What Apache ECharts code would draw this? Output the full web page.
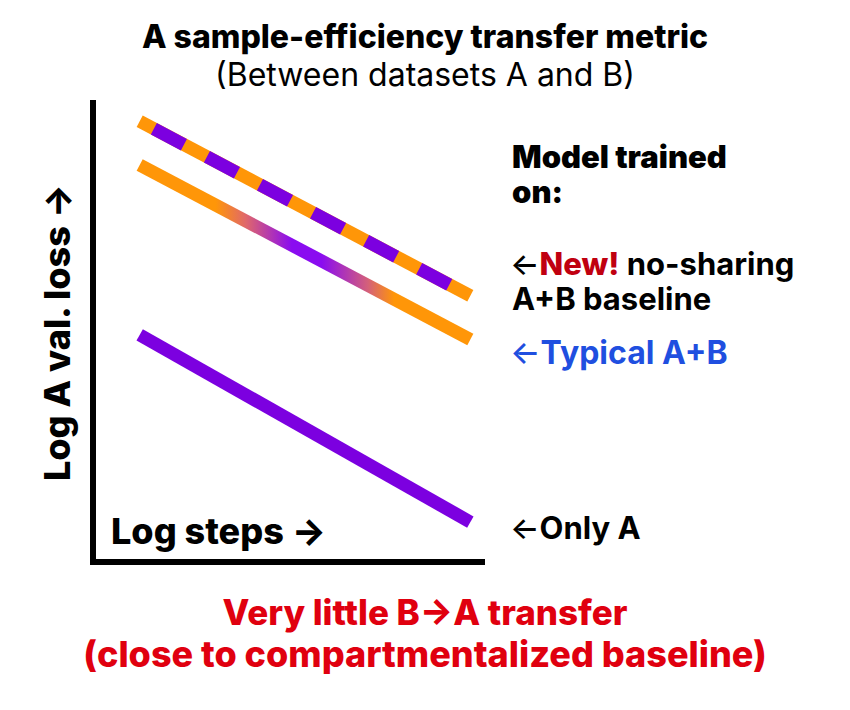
<!DOCTYPE html>
<html>
<head>
<meta charset="utf-8">
<script src="https://cdn.jsdelivr.net/npm/echarts@6/dist/echarts.min.js"></script>
<style>
  html, body { margin: 0; padding: 0; background: #fff; }
  #chart { width: 850px; height: 710px; }
</style>
</head>
<body>
<div id="chart"></div>
<script>
// ---- data (schematic) ----
const logSteps = [1.2, 9.7];
const noSharingLoss = [9.6, 5.8];
const typicalLoss = [8.65, 4.85];
const onlyALoss = [4.95, 0.87];

const ORANGE = '#ff9608';
const PURPLE = '#7c00e0';
const FONT = 'Inter, "Noto Sans", sans-serif';

function pairs(xs, ys) {
    return xs.map(function (x, i) { return [x, ys[i]]; });
}

// text block placed by its left edge and vertical middle
function label(x, y, text, font, fill, rich) {
    return {
        type: 'text',
        x: x,
        y: y,
        style: {
            text: text,
            font: font,
            fill: fill,
            textVerticalAlign: 'middle',
            rich: rich || {}
        }
    };
}

var dom = document.getElementById('chart');
var myChart = echarts.init(dom, null, { renderer: 'svg' });

var option = {
    backgroundColor: '#ffffff',
    animation: false,
    title: {
        text: 'A sample-efficiency transfer metric',
        subtext: '(Between datasets A and B)',
        left: 'center',
        top: 15,
        itemGap: 6,
        textStyle: {
            fontFamily: FONT,
            fontSize: 32,
            fontWeight: 800,
            color: '#000'
        },
        subtextStyle: {
            fontFamily: FONT,
            fontSize: 32,
            fontWeight: 400,
            color: '#000'
        }
    },
    grid: {
        left: 93,
        right: 368,
        top: 103,
        bottom: 148
    },
    xAxis: {
        type: 'value',
        min: 0,
        max: 10,
        axisLine: { lineStyle: { color: '#000', width: 6, cap: 'square' } },
        axisTick: { show: false },
        axisLabel: { show: false },
        splitLine: { show: false }
    },
    yAxis: {
        type: 'value',
        min: 0,
        max: 10,
        name: 'Log A val. loss \u2192',
        nameLocation: 'middle',
        nameRotate: 90,
        nameGap: 18,
        nameTextStyle: {
            fontFamily: FONT,
            fontSize: 36,
            fontWeight: 800,
            color: '#000'
        },
        axisLine: { show: true, lineStyle: { color: '#000', width: 6, cap: 'square' } },
        axisTick: { show: false },
        axisLabel: { show: false },
        splitLine: { show: false }
    },
    graphic: [
        label(111, 531, 'Log steps \u2192', '800 36px ' + FONT, '#000'),
        label(512, 156, 'Model trained', '900 31px ' + FONT, '#000'),
        label(512, 191, 'on:', '900 31px ' + FONT, '#000'),
        label(510, 263, '{a|\u2190}{r|New!} no-sharing', '700 31px ' + FONT, '#000', {
            a: { font: '500 31px ' + FONT, fill: '#000' },
            r: { font: '800 31px ' + FONT, fill: '#c00010' }
        }),
        label(512, 298, 'A+B baseline', '700 31px ' + FONT, '#000'),
        label(510, 352, '{a|\u2190}Typical A+B', '700 32px ' + FONT, '#1f4fe0', {
            a: { font: '500 32px ' + FONT, fill: '#1f4fe0' }
        }),
        label(510, 527, '{a|\u2190}Only A', '700 31px ' + FONT, '#000', {
            a: { font: '500 31px ' + FONT, fill: '#000' }
        }),
        {
            type: 'text', left: 'center', top: 594,
            style: { text: 'Very little B\u2192A transfer', font: '800 35px ' + FONT, fill: '#e0000f' }
        },
        {
            type: 'text', left: 'center', top: 636,
            style: { text: '(close to compartmentalized baseline)', font: '800 36px ' + FONT, fill: '#e0000f' }
        }
    ],
    series: [
        {
            name: 'No-sharing A+B (base)',
            type: 'line',
            data: pairs(logSteps, noSharingLoss),
            symbol: 'none',
            silent: true,
            lineStyle: { color: ORANGE, width: 13, cap: 'butt' }
        },
        {
            name: 'No-sharing A+B (dash)',
            type: 'line',
            data: pairs(logSteps, noSharingLoss),
            symbol: 'none',
            silent: true,
            lineStyle: { color: PURPLE, width: 13, cap: 'butt', type: [34, 26], dashOffset: 44 }
        },
        {
            name: 'Typical A+B',
            type: 'line',
            data: pairs(logSteps, typicalLoss),
            symbol: 'none',
            silent: true,
            lineStyle: {
                width: 13,
                cap: 'butt',
                color: new echarts.graphic.LinearGradient(0, 0, 1, 0, [
                    { offset: 0, color: ORANGE },
                    { offset: 0.23, color: ORANGE },
                    { offset: 0.32, color: '#e0686a' },
                    { offset: 0.46, color: '#8a0cf0' },
                    { offset: 0.55, color: '#8a0cf0' },
                    { offset: 0.69, color: '#d4607a' },
                    { offset: 0.77, color: ORANGE },
                    { offset: 1, color: ORANGE }
                ])
            }
        },
        {
            name: 'Only A',
            type: 'line',
            data: pairs(logSteps, onlyALoss),
            symbol: 'none',
            silent: true,
            lineStyle: { color: PURPLE, width: 13, cap: 'butt' }
        }
    ]
};

if (option && typeof option === 'object') {
    myChart.setOption(option);
}
</script>
</body>
</html>
